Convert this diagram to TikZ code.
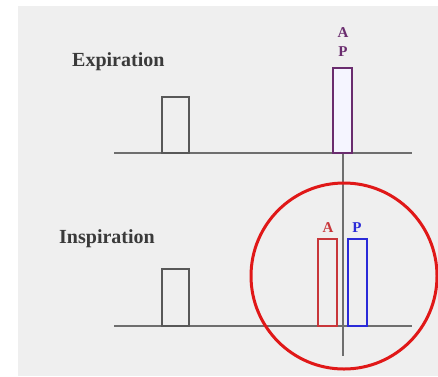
\documentclass[tikz,border=0pt]{standalone}
\usepackage{fontspec}
\setmainfont{Liberation Serif}
\definecolor{bg}{HTML}{EFEFEF}
\definecolor{lin}{HTML}{6E6E6E}
\definecolor{txt}{HTML}{3A3A3A}
\definecolor{purp}{HTML}{6A2C6E}
\definecolor{redb}{HTML}{C8363A}
\definecolor{blueb}{HTML}{2A2AD8}
\definecolor{circ}{HTML}{E01818}
\begin{document}
\begin{tikzpicture}[x=1pt,y=-1pt,
  base/.style={draw=lin,line width=1.3pt},
  pulse/.style={draw=lin!80!black,line width=1.2pt,inner sep=0pt,outer sep=0pt,anchor=south west},
  lbl/.style={text=txt,font=\fontsize{20}{22}\selectfont\bfseries,inner sep=0pt},
  let/.style={font=\fontsize{15}{16}\selectfont\bfseries,inner sep=0pt}]
\useasboundingbox (0,0) rectangle (438,376);
\fill[bg] (18,6) rectangle (438,376);
% baselines
\coordinate (t1) at (114,153); \coordinate (t2) at (412,153);
\coordinate (b1) at (114,326); \coordinate (b2) at (412,326);
\coordinate (v1) at (343,153); \coordinate (v2) at (343,356);
\draw[base] (t1) -- (t2);
\draw[base] (b1) -- (b2);
\draw[base] (v1) -- (v2);
% small pulses
\node[pulse,minimum width=27pt,minimum height=56pt] (sp1) at (162,153) {};
\node[pulse,minimum width=27pt,minimum height=57pt] (sp2) at (162,326) {};
% expiration box
\node[pulse,draw=purp,fill=white!96!blue,minimum width=19pt,minimum height=85pt] (ap) at (333,153) {};
\node[let,text=purp] (la1) at (343,33) {A};
\node[let,text=purp] (lp1) at (343,52) {P};
% inspiration boxes
\node[pulse,draw=redb,minimum width=19pt,minimum height=87pt] (ab) at (318,326) {};
\node[pulse,draw=blueb,minimum width=19pt,minimum height=87pt] (pb) at (348,326) {};
\node[let,text=redb] (la2) at (328,228) {A};
\node[let,text=blueb] (lp2) at (357,228) {P};
% labels
\node[lbl,anchor=west] (ex) at (72,62) {Expiration};
\node[lbl,anchor=west] (in) at (59,239) {Inspiration};
% circle
\node[draw=circ,line width=3pt,circle,minimum size=186pt,inner sep=0pt] (c) at (344,276) {};
\end{tikzpicture}
\end{document}
